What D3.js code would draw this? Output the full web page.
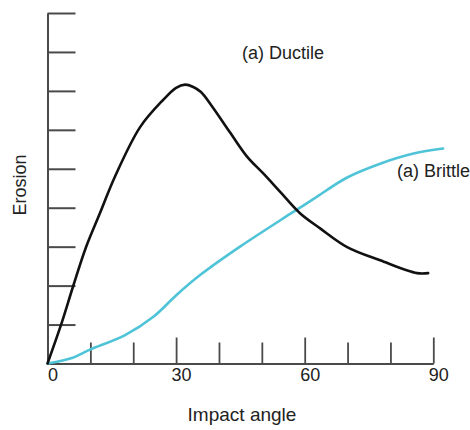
<!DOCTYPE html>
<html>
<head>
<meta charset="utf-8">
<script src="https://cdn.jsdelivr.net/npm/d3@7"></script>
<style>
  html, body { margin: 0; padding: 0; background: #fff; }
  svg { display: block; font-family: "Liberation Sans", Arial, sans-serif; }
</style>
</head>
<body>
<svg id="chart" width="470" height="430"></svg>
<script>
// Erosion vs impact angle for ductile and brittle materials
const ductileAngle = [0, 3.15, 6.0, 9.0, 12.2, 15.7, 21.6, 26.9, 30.0, 32.1, 34.0, 35.8, 38.4, 42.6, 46.5, 50.5, 54.5, 58.9, 63.6, 69.9, 77.6, 86.2, 88.8];
const ductileErosion = [0, 0.99, 1.99, 2.99, 3.85, 4.79, 6.07, 6.76, 7.08, 7.16, 7.1, 6.97, 6.6, 5.93, 5.32, 4.86, 4.38, 3.86, 3.47, 2.99, 2.65, 2.32, 2.32];

const brittleAngle = [0, 5.9, 9.75, 18.1, 24.7, 30.1, 35.6, 44.9, 56.6, 62.0, 69.8, 77.6, 85.4, 92.3];
const brittleErosion = [0, 0.15, 0.35, 0.73, 1.2, 1.76, 2.27, 3.0, 3.84, 4.22, 4.77, 5.13, 5.39, 5.52];

const xTicks = [10, 20, 30, 40, 50, 60, 70, 80, 90];
const xMajorTicks = [30, 60, 90];
const xTickLabels = [0, 30, 60, 90];
const yTicks = [1, 2, 3, 4, 5, 6, 7, 8, 9];

const svg = d3.select("#chart");

const x = d3.scaleLinear().domain([0, 90]).range([47.5, 433.3]);
const y = d3.scaleLinear().domain([0, 9]).range([363.5, 13]);

const axisColor = "#4a4a4a";
const textColor = "#222";

// y axis: vertical line with inward ticks, no labels
const yAxis = svg.append("g")
  .attr("transform", `translate(${x(0)},0)`)
  .call(d3.axisRight(y).tickValues(yTicks).tickSize(28).tickSizeOuter(0).tickFormat(""));
yAxis.select(".domain").attr("stroke", axisColor).attr("stroke-width", 2);
yAxis.selectAll(".tick line").attr("stroke", axisColor).attr("stroke-width", 2);

// x axis: horizontal line with upward ticks, longer at 30/60/90
const xAxis = svg.append("g")
  .attr("transform", `translate(0,${y(0)})`)
  .call(d3.axisTop(x).tickValues(xTicks).tickSize(21).tickSizeOuter(0).tickFormat(""));
xAxis.select(".domain").attr("stroke", axisColor).attr("stroke-width", 2);
xAxis.selectAll(".tick line")
  .attr("stroke", axisColor).attr("stroke-width", 1.8)
  .attr("y2", d => xMajorTicks.includes(d) ? -26 : -21);

// x tick labels
svg.append("g").selectAll("text")
  .data(xTickLabels)
  .join("text")
  .attr("x", d => x(d) + 5.5)
  .attr("y", y(0) + 17)
  .attr("text-anchor", "middle")
  .attr("font-size", 18)
  .attr("fill", textColor)
  .text(d => d);

// axis titles
svg.append("text")
  .attr("x", 242)
  .attr("y", 421)
  .attr("text-anchor", "middle")
  .attr("font-size", 19)
  .attr("fill", textColor)
  .text("Impact angle");

svg.append("text")
  .attr("transform", "translate(26,185) rotate(-90)")
  .attr("text-anchor", "middle")
  .attr("font-size", 18)
  .attr("fill", textColor)
  .text("Erosion");

// curves
const line = d3.line()
  .x(d => x(d[0]))
  .y(d => y(d[1]))
  .curve(d3.curveCatmullRom.alpha(0.5));

svg.append("path")
  .datum(d3.zip(brittleAngle, brittleErosion))
  .attr("fill", "none")
  .attr("stroke", "#4fc4d8")
  .attr("stroke-width", 2.6)
  .attr("stroke-linecap", "round")
  .attr("d", line);

svg.append("path")
  .datum(d3.zip(ductileAngle, ductileErosion))
  .attr("fill", "none")
  .attr("stroke", "#111")
  .attr("stroke-width", 2.6)
  .attr("stroke-linecap", "round")
  .attr("stroke-linejoin", "round")
  .attr("d", line);

// curve annotations
svg.append("text")
  .attr("x", 242)
  .attr("y", 59)
  .attr("font-size", 18)
  .attr("fill", textColor)
  .text("(a) Ductile");

svg.append("text")
  .attr("x", 397)
  .attr("y", 177)
  .attr("font-size", 18)
  .attr("fill", textColor)
  .text("(a) Brittle");
</script>
</body>
</html>
